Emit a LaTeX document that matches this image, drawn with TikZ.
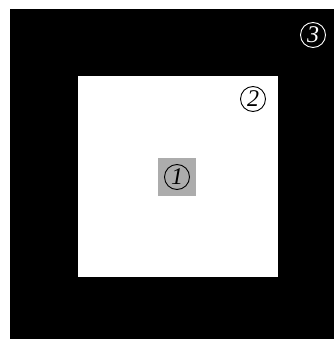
\documentclass[tikz,border=0pt]{standalone}
\usepackage{fontspec}
\setmainfont{Liberation Serif}
\usetikzlibrary{positioning}
\begin{document}
\begin{tikzpicture}[
  x=1pt,y=-1pt,
  zone/.style={inner sep=0pt,outer sep=0pt},
  num/.style={circle,draw,inner sep=0pt,minimum size=25pt,line width=0.9pt,
    font=\itshape\fontsize{24}{24}\selectfont}
]
  \useasboundingbox (0,0) rectangle (334,339);
  % three nested zones
  \node[zone,fill=black,minimum width=324pt,minimum height=330pt] (outer) at (172,174) {};
  \node[zone,fill=white,minimum width=200pt,minimum height=201pt] (inner) at (178,176.5) {};
  \node[zone,fill=gray!65,minimum width=38pt,minimum height=38pt] (core) at (177,177) {};
  % labels
  \node[num] (one) at (core.center) {1};
  \node[num] (two) at (253,99) {2};
  \node[num,draw=white,text=white] (three) at (313,35) {3};
\end{tikzpicture}
\end{document}
